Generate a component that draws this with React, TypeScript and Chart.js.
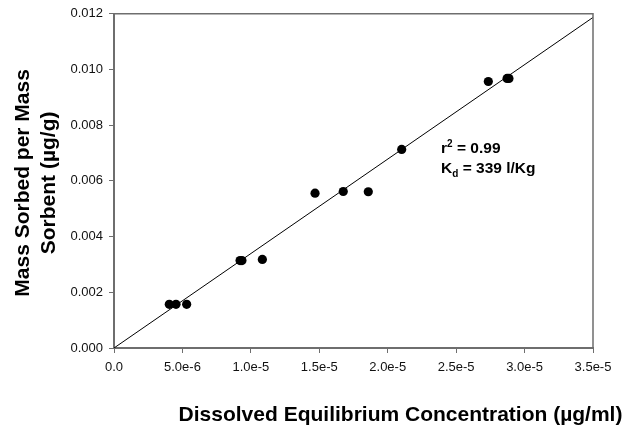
import React, { useEffect, useRef } from "react";
import { Chart, registerables } from "chart.js";

Chart.register(...registerables);

const concX = [4.04e-6, 4.53e-6, 5.31e-6, 9.21e-6, 9.35e-6, 1.084e-5, 1.469e-5, 1.675e-5, 1.858e-5, 2.102e-5, 2.735e-5, 2.872e-5, 2.886e-5];
const sorbedY = [0.00157, 0.00157, 0.00157, 0.00314, 0.00314, 0.00318, 0.00556, 0.00562, 0.00561, 0.00713, 0.00957, 0.00968, 0.00968];

// Fitted line end points
const fitX = [0, 3.5e-5];
const fitY = [0, 0.01187];

const xTitle = "Dissolved Equilibrium Concentration (\u00b5g/ml)";
const yTitleLines = ["Mass Sorbed per Mass", "Sorbent (\u00b5g/g)"];
const rText = "0.99";
const kdText = "339 l/Kg";

const FONT = "'Liberation Sans', Arial, sans-serif";

const decorPlugin = {
  id: "decor",
  afterDraw(chart: any) {
    const { ctx, chartArea } = chart;
    const { left, right, top, bottom } = chartArea;
    ctx.save();
    // top & right frame
    ctx.strokeStyle = "#6e6e6e";
    ctx.lineWidth = 1.5;
    ctx.beginPath();
    ctx.moveTo(left, top);
    ctx.lineTo(right, top);
    ctx.lineTo(right, bottom);
    ctx.stroke();

    ctx.fillStyle = "#000";
    // x title
    ctx.font = `bold 21px ${FONT}`;
    ctx.textAlign = "center";
    ctx.textBaseline = "alphabetic";
    ctx.fillText(xTitle, (left + right) / 2 + 47, 421);

    // y title (two lines, rotated)
    const cy = (top + bottom) / 2;
    ctx.save();
    ctx.translate(29, cy + 2);
    ctx.rotate(-Math.PI / 2);
    ctx.textAlign = "center";
    ctx.font = `bold 21px ${FONT}`;
    ctx.fillText(yTitleLines[0], 0, 0);
    ctx.fillText(yTitleLines[1], 0, 26);
    ctx.restore();

    // annotation
    const xs = chart.scales.x;
    const ys = chart.scales.y;
    const ax = xs.getPixelForValue(2.39e-5);
    const ay1 = ys.getPixelForValue(0.00701);
    const ay2 = ay1 + 20;
    ctx.textAlign = "left";
    ctx.font = `bold 15.5px ${FONT}`;
    ctx.fillText("r", ax, ay1);
    let w = ctx.measureText("r").width;
    ctx.font = `bold 10px ${FONT}`;
    ctx.fillText("2", ax + w, ay1 - 5.5);
    const w2 = ctx.measureText("2").width;
    ctx.font = `bold 15.5px ${FONT}`;
    ctx.fillText(" = " + rText, ax + w + w2, ay1);

    ctx.fillText("K", ax, ay2);
    w = ctx.measureText("K").width;
    ctx.font = `bold 10px ${FONT}`;
    ctx.fillText("d", ax + w, ay2 + 4);
    const wd = ctx.measureText("d").width;
    ctx.font = `bold 15.5px ${FONT}`;
    ctx.fillText(" = " + kdText, ax + w + wd, ay2);
    ctx.restore();
  },
};

export default function App() {
  const ref = useRef<HTMLCanvasElement | null>(null);
  useEffect(() => {
    document.body.style.margin = "0";
    const canvas = ref.current;
    if (!canvas) return;
    const chart = new Chart(canvas, {
      type: "scatter",
      data: {
        datasets: [
          {
            type: "scatter",
            data: concX.map((x, i) => ({ x, y: sorbedY[i] })),
            backgroundColor: "#000",
            borderWidth: 0,
            pointRadius: 4.6,
            order: 0,
          } as any,
          {
            type: "line",
            data: fitX.map((x, i) => ({ x, y: fitY[i] })),
            borderColor: "#000",
            borderWidth: 1,
            pointRadius: 0,
            fill: false,
            order: 1,
          } as any,
        ],
      },
      options: {
        animation: false,
        responsive: false,
        maintainAspectRatio: false,
        layout: { padding: { left: 0, top: 12, right: 33, bottom: 0 } },
        plugins: { legend: { display: false }, tooltip: { enabled: false }, title: { display: false } },
        scales: {
          x: {
            type: "linear",
            min: 0,
            max: 3.5e-5,
            ticks: {
              stepSize: 5e-6,
              color: "#111",
              font: { family: FONT, size: 13 },
              padding: 7,
              maxRotation: 0,
              callback: (v: any) => (Math.abs(v) < 1e-12 ? "0.0" : Number(v).toExponential(1)),
            },
            grid: { drawOnChartArea: false, drawTicks: true, tickLength: 5, color: "#6e6e6e", lineWidth: 1 },
            border: { display: true, color: "#6e6e6e", width: 2 },
            afterFit: (s: any) => {
              s.height = 84;
            },
          },
          y: {
            type: "linear",
            min: 0,
            max: 0.012,
            ticks: {
              stepSize: 0.002,
              color: "#111",
              font: { family: FONT, size: 13 },
              padding: 6,
              callback: (v: any) => Number(v).toFixed(3),
            },
            grid: { drawOnChartArea: false, drawTicks: true, tickLength: 5, color: "#6e6e6e", lineWidth: 1 },
            border: { display: true, color: "#6e6e6e", width: 2 },
            afterFit: (s: any) => {
              s.width = 114;
            },
          },
        },
      },
      plugins: [decorPlugin],
    });
    return () => chart.destroy();
  }, []);
  return (
    <div style={{ width: 626, height: 432 }}>
      <canvas ref={ref} width={626} height={432} style={{ display: "block" }} />
    </div>
  );
}
